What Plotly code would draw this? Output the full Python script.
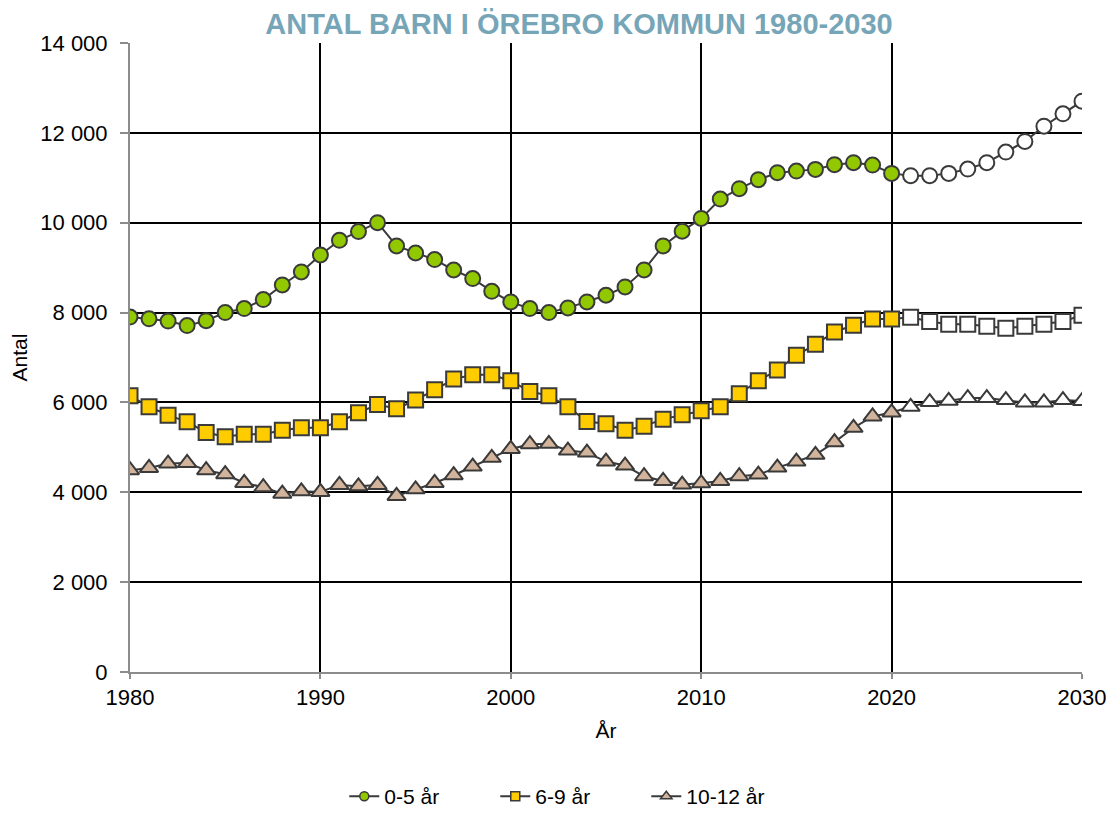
import plotly.graph_objects as go

years = list(range(1980, 2031))

age_0_5 = [7900, 7860, 7810, 7710, 7820, 8000, 8090, 8290, 8615, 8904,
           9282, 9609, 9802, 10000, 9482, 9326, 9179, 8948, 8757, 8474,
           8236, 8089, 8000, 8104, 8237, 8386, 8571, 8950, 9484, 9810,
           10096, 10527, 10757, 10957, 11113, 11150, 11187, 11291, 11336, 11284,
           11098, 11046, 11046, 11098, 11194, 11336, 11573, 11810, 12148, 12423,
           12705]

age_6_9 = [6149, 5903, 5717, 5569, 5331, 5234, 5294, 5294, 5383, 5435,
           5435, 5569, 5770, 5955, 5859, 6052, 6282, 6520, 6617, 6617,
           6480, 6245, 6149, 5903, 5576, 5524, 5383, 5472, 5628, 5725,
           5814, 5903, 6193, 6483, 6721, 7048, 7294, 7569, 7717, 7859,
           7859, 7896, 7800, 7740, 7740, 7695, 7650, 7695, 7740, 7800,
           7941]

age_10_12 = [4491, 4543, 4639, 4654, 4491, 4402, 4208, 4112, 3970, 4022,
             4007, 4164, 4134, 4164, 3918, 4067, 4208, 4380, 4573, 4766,
             4965, 5071, 5078, 4929, 4885, 4684, 4595, 4357, 4253, 4171,
             4201, 4253, 4357, 4394, 4550, 4684, 4833, 5116, 5435, 5688,
             5777, 5903, 6007, 6037, 6097, 6097, 6052, 6000, 6000, 6052,
             6030]

last_actual_year = 2020

series = [
    ("0-5 år", age_0_5, "circle", "#92C800", 15, 9),
    ("6-9 år", age_6_9, "square", "#FFCC00", 15, 9),
    ("10-12 år", age_10_12, "triangle-up", "#D2B49C", 16, 10),
]

LINE = "#3A3A3A"
fig = go.Figure()
for name, vals, sym, col, size, lsize in series:
    colors = [col if y <= last_actual_year else "#FFFFFF" for y in years]
    fig.add_trace(go.Scatter(
        x=years, y=vals, name=name, mode="lines+markers", showlegend=False,
        line=dict(color=LINE, width=2),
        marker=dict(symbol=sym, size=size, color=colors,
                    line=dict(color=LINE, width=2)),
    ))
# legend entries with small markers, as in the reference legend
for name, vals, sym, col, size, lsize in series:
    fig.add_trace(go.Scatter(
        x=[None], y=[None], name=name, mode="lines+markers", showlegend=True,
        line=dict(color=LINE, width=2),
        marker=dict(symbol=sym, size=lsize, color=col,
                    line=dict(color=LINE, width=1.5)),
    ))

# page body has an 8px margin, so the figure is offset by 8px
fig.update_layout(
    width=1106, height=808,
    paper_bgcolor="white", plot_bgcolor="white",
    margin=dict(l=122, r=32, t=35, b=144, autoexpand=False),
    separators=", ",
    font=dict(family="Liberation Sans, Arial, sans-serif", size=22, color="#000000"),
    title=dict(text="<b>ANTAL BARN I ÖREBRO KOMMUN 1980-2030</b>",
               x=571 / 1106, xanchor="center", y=1 - 16 / 808, yanchor="middle",
               font=dict(family="Liberation Sans, Arial, sans-serif",
                         size=29, color="#76A5B8")),
    showlegend=True,
    legend=dict(orientation="h", x=0.463, xanchor="center", y=-0.198, yanchor="middle",
                font=dict(size=21), traceorder="normal",
                entrywidth=106, entrywidthmode="pixels"),
)

fig.update_xaxes(
    range=[1980, 2030], tickmode="linear", tick0=1980, dtick=10,
    showgrid=True, gridcolor="#000000", gridwidth=2,
    showline=True, linecolor="#8C8C8C", linewidth=2,
    ticks="outside", ticklen=5, tickcolor="#8C8C8C", tickwidth=2,
    title=dict(text="År", font=dict(size=21), standoff=14),
    zeroline=False,
)
fig.update_yaxes(
    range=[0, 14000], tickmode="linear", tick0=0, dtick=2000,
    tickformat=",d",
    showgrid=True, gridcolor="#000000", gridwidth=2,
    showline=True, linecolor="#8C8C8C", linewidth=2,
    ticks="outside", ticklen=8, tickcolor="#8C8C8C", tickwidth=2,
    ticklabelstandoff=8,
    title=dict(text="Antal", font=dict(size=21), standoff=12),
    zeroline=False,
)

fig.write_html("out.html")
